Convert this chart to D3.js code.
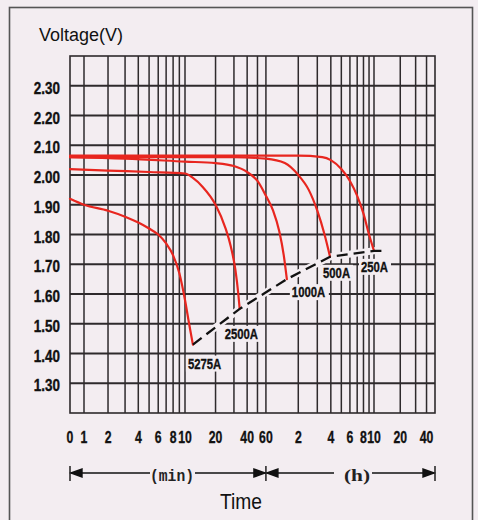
<!DOCTYPE html>
<html><head><meta charset="utf-8">
<script src="https://cdn.jsdelivr.net/npm/d3@7"></script>
<style>html,body{margin:0;padding:0;background:#f3edf1;}svg{display:block;}</style>
</head><body>
<svg id="c" width="478" height="520"></svg>
<script>
// ---------- data ----------
const yTicks = [1.30, 1.40, 1.50, 1.60, 1.70, 1.80, 1.90, 2.00, 2.10, 2.20, 2.30];
const minuteGrid = [1, 2, 3, 4, 5, 6, 7, 8, 9, 10, 20, 30, 40, 50, 60];      // minutes
const hourGrid = [2, 3, 4, 5, 6, 7, 8, 9, 10, 20, 30, 40];                   // hours
const minuteLabels = [0, 1, 2, 4, 6, 8, 10, 20, 40, 60];
const hourLabels = [2, 4, 6, 8, 10, 20, 40];
const currents = ["5275A", "2500A", "1000A", "500A", "250A"];
// [time in minutes, voltage]
const curve5275A = [[0,1.92],[1,1.90],[2,1.88],[3,1.86],[4,1.84],[5,1.82],[6,1.80],[7,1.77],[8,1.73],[9,1.67],[10,1.58],[11,1.50],[12,1.43]];
const curve2500A = [[0,2.02],[2,2.015],[5,2.01],[10,2.005],[12,1.99],[15,1.96],[20,1.90],[25,1.82],[28,1.76],[31,1.68],[33,1.60],[34,1.55]];
const curve1000A = [[0,2.06],[3,2.055],[10,2.045],[20,2.04],[30,2.03],[40,2.01],[50,1.98],[60,1.93],[70,1.88],[80,1.81],[88,1.73],[94,1.65]];
const curve500A  = [[0,2.06],[30,2.06],[60,2.055],[90,2.04],[120,2.0],[150,1.95],[180,1.88],[210,1.80],[236,1.725]];
const curve250A  = [[0,2.065],[60,2.065],[120,2.065],[200,2.06],[240,2.05],[300,2.02],[360,1.98],[420,1.93],[480,1.87],[540,1.80],[600,1.745]];
const cutoffLine = [[12,1.43],[34,1.55],[94,1.65],[236,1.725],[600,1.745],[740,1.745]];

// ---------- layout ----------
const BG = "#f3edf1", GRID = "#2e2a2c", RED = "#e8261f";
const svg = d3.select("#c");
svg.append("rect").attr("width",478).attr("height",520).attr("fill",BG);
svg.append("rect").attr("x",9.5).attr("y",7.5).attr("width",463).attr("height",540)
  .attr("fill","none").attr("stroke","#555").attr("stroke-width",1.6);

const x = d3.scaleSymlog().constant(1).domain([0, 1, 10, 600, 3000]).range([70, 84, 185, 374, 435]);
const y = d3.scaleLinear().domain([1.2, 2.4]).range([413, 56]);

const g = svg.append("g");
// vertical grid
const vGrid = minuteGrid.concat(hourGrid.map(h => h * 60));
g.selectAll("line.v").data(vGrid).join("line")
  .attr("x1", d => x(d)).attr("x2", d => x(d)).attr("y1", y(2.4)).attr("y2", y(1.2))
  .attr("stroke", GRID).attr("stroke-width", 1.5);
// horizontal grid
g.selectAll("line.h").data(yTicks).join("line")
  .attr("x1", x(0)).attr("x2", x(3000)).attr("y1", d => y(d)).attr("y2", d => y(d))
  .attr("stroke", GRID).attr("stroke-width", 1.8);
// frame
g.append("rect").attr("x", x(0)).attr("y", y(2.4)).attr("width", x(3000)-x(0)).attr("height", y(1.2)-y(2.4))
  .attr("fill","none").attr("stroke", GRID).attr("stroke-width", 1.6);

function narrow(parent, tx, ty, txt, size, sx, anchor, weight, family) {
  parent.append("text").attr("transform", `translate(${tx},${ty}) scale(${sx},1)`)
    .attr("text-anchor", anchor).attr("font-size", size).attr("font-weight", weight || "bold")
    .attr("font-family", family || "'Liberation Sans', Arial, sans-serif").attr("fill", "#111")
    .attr("stroke", "#111").attr("stroke-width", 0.35).text(txt);
}

// y tick labels
yTicks.forEach(v => narrow(svg, 60, y(v) + 8, v.toFixed(2), 16, 0.84, "end"));
// x tick labels
minuteLabels.forEach(m => narrow(svg, x(m), 443, String(m), 17, 0.72, "middle"));
hourLabels.forEach(h => narrow(svg, x(h * 60), 443, String(h), 17, 0.72, "middle"));

// titles
svg.append("text").attr("x", 39).attr("y", 41).attr("font-size", 18)
  .attr("font-family", "'Liberation Sans', Arial, sans-serif").attr("fill", "#111")
  .attr("textLength", 84).attr("lengthAdjust", "spacingAndGlyphs").text("Voltage(V)");
svg.append("text").attr("x", 220).attr("y", 509).attr("font-size", 22)
  .attr("font-family", "'Liberation Sans', Arial, sans-serif").attr("fill", "#111")
  .attr("textLength", 42).attr("lengthAdjust", "spacingAndGlyphs").text("Time");

// curves
const line = d3.line().x(d => x(d[0])).y(d => y(d[1])).curve(d3.curveMonotoneX);
const curves = [curve5275A, curve2500A, curve1000A, curve500A, curve250A];

// cutoff dashed line with halo
const lineL = d3.line().x(d => x(d[0])).y(d => y(d[1]));
svg.append("path").attr("d", lineL(cutoffLine)).attr("fill","none").attr("stroke", BG).attr("stroke-width", 7);

curves.forEach(c => svg.append("path").attr("d", line(c)).attr("fill","none")
  .attr("stroke", RED).attr("stroke-width", 2.2).attr("stroke-linecap","round"));

svg.append("path").attr("d", lineL(cutoffLine)).attr("fill","none").attr("stroke", "#111")
  .attr("stroke-width", 2.3).attr("stroke-dasharray", "11,6");

// current labels
const labelOffsets = [[-5, 24], [-15, 30], [5, 18], [-7, 21], [-13, 21]];
curves.forEach((c, i) => {
  const e = c[c.length - 1];
  const lx = x(e[0]) + labelOffsets[i][0], ly = y(e[1]) + labelOffsets[i][1];
  const w = currents[i].length * 7;
  svg.append("rect").attr("x", lx - 2).attr("y", ly - 13).attr("width", w + 4).attr("height", 16).attr("fill", BG);
  narrow(svg, lx, ly, currents[i], 14.5, 0.78, "start");
});

// bottom arrows
const ay = 473;
const ar = svg.append("g").attr("stroke", "#111").attr("stroke-width", 1.4).attr("fill", "#111");
function bar(px) { ar.append("line").attr("x1", px).attr("x2", px).attr("y1", ay - 7).attr("y2", ay + 8); }
function head(px, dir) { ar.append("path").attr("d", `M${px},${ay} L${px + dir*11},${ay-4} L${px + dir*11},${ay+4} Z`); }
function seg(a, b) { ar.append("line").attr("x1", a).attr("x2", b).attr("y1", ay).attr("y2", ay); }
const x0 = x(0), x60 = x(60), xEnd = x(3000);
bar(x0); head(x0 + 1, 1); seg(x0 + 1, 150); seg(195, x60 - 1); head(x60 - 1, -1);
bar(x60); head(x60 + 1, 1); seg(x60 + 1, 334); seg(372, xEnd - 1); head(xEnd - 1, -1); bar(xEnd);
svg.append("text").attr("x", 150).attr("y", 481).attr("font-size", 17).attr("font-weight", "bold")
  .attr("textLength", 44).attr("lengthAdjust", "spacingAndGlyphs")
  .attr("font-family", "'Liberation Mono', 'DejaVu Sans Mono', monospace").attr("fill","#222").text("(min)");
svg.append("text").attr("x", 344).attr("y", 481).attr("font-size", 17).attr("font-weight", "bold")
  .attr("textLength", 26).attr("lengthAdjust", "spacingAndGlyphs")
  .attr("font-family", "'Liberation Serif', 'DejaVu Serif', serif").attr("fill","#222").text("(h)");
</script>
</body></html>
